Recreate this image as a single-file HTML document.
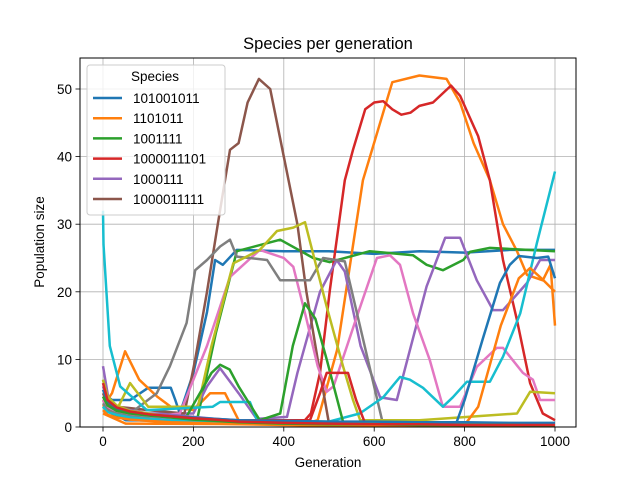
<!DOCTYPE html>
<html><head><meta charset="utf-8"><style>
body{margin:0;background:#fff;}
svg text{font-family:"Liberation Sans","DejaVu Sans",sans-serif;}
</style></head><body>
<svg id="chart" width="640" height="480" xmlns="http://www.w3.org/2000/svg">
<rect width="640" height="480" fill="#fff"/>
<text x="328" y="49" font-size="16.5" text-anchor="middle">Species per generation</text>
<g id="grid"></g>
<g id="series"></g>
<rect x="80" y="58" width="496" height="369" fill="none" stroke="#000" stroke-width="1"/>
<g id="ticks"></g>
<text x="328" y="467" font-size="13.5" text-anchor="middle">Generation</text>
<text transform="translate(44,242) rotate(-90)" font-size="13.5" text-anchor="middle">Population size</text>
<g id="legend"></g>
</svg>
<script>
const xTicks=[0,200,400,600,800,1000];
const yTicks=[0,10,20,30,40,50];
const legendLabels=["101001011","1101011","1001111","1000011101","1000111","1000011111"];
const colors=["#1f77b4","#ff7f0e","#2ca02c","#d62728","#9467bd","#8c564b","#e377c2","#7f7f7f","#bcbd22","#17becf"];

const blueA_g=[0,20,60,100,150,160,170,200,230,248,265,296,400,500,600,700,800,900,1000];
const blueA_v=[5,4,4,5.8,5.8,4,2,8,17,24.7,24,26.2,26,26,25.6,26,25.8,26.2,26.2];
const orangeA_g=[0,20,49,80,120,150,200,237,270,300,450,475,518,575,640,700,760,790,820,856,885,916,938,973,990,1000];
const orangeA_v=[3,5,11.2,7,4.5,3,2.5,5,5,1,0.5,1,11.4,36.5,51,52,51.5,48,42,36.5,30,26,22.5,21.7,24,15];
const greenA_g=[0,30,100,208,250,296,392,465,502,590,686,716,752,797,812,856,1000];
const greenA_v=[3,1.5,1,1,14,26,27.7,25,24.4,26,25.4,24,23.2,24.7,25.9,26.5,26];
const redA_g=[0,20,100,440,460,480,502,535,553,580,600,620,640,660,680,700,730,770,790,810,830,856,885,916,945,973,1000];
const redA_v=[4,2,1,0.5,2,8,20.3,36.5,41,47,48,48.2,47,46.2,46.5,47.5,48,50.5,49,46,43,36.5,24.7,15.8,6.5,2,1];
const purpleA_g=[0,15,50,200,230,259,300,340,407,430,480,517,535,570,613,650,716,757,790,827,863,885,938,967,1000];
const purpleA_v=[9,3,2,2,6,8.7,5,1.2,1.5,8,20,24.7,23,12,4.4,4,20.8,28,28,21.7,17.3,17.3,21.3,24.7,24.7];
const brownA_g=[0,30,100,180,204,230,254,281,300,320,345,370,385,400,430,450,475,500,1000];
const brownA_v=[4,3,2.5,2,10,20,30,41,42,48,51.5,50,45,40,30,20,10,0.5,0.3];
const pink_g=[0,20,100,170,230,281,347,400,421,450,475,495,510,560,606,635,657,686,723,752,790,827,871,885,929,951,967,1000];
const pink_v=[4,2,1.5,2,12,22.2,26.2,25,23.7,16,9,5.2,6,16,25,25.4,24,16.8,9.9,3,3,8.9,11.7,11.7,8,7,4,4];
const gray_g=[0,15,60,119,148,185,204,230,259,281,296,363,392,458,487,535,620,1000];
const gray_v=[7,3,2,5,9,15.4,23.2,24.7,26.7,27.7,25.2,24.7,21.7,21.7,25,24.5,0.3,0.2];
const olive_g=[0,30,60,100,210,240,288,347,385,421,447,495,531,553,569,700,916,945,1000];
const olive_v=[3,2.5,6.5,3,3,12,24.2,26.2,29,29.5,30.3,17.8,9,4,1,1,2,5.2,5];
const cyan_g=[0,1,15,38,97,243,259,325,341,500,568,620,657,679,708,752,774,805,856,885,923,960,1000];
const cyan_v=[32,27,12,6,2.5,3,3.7,3.7,1,0.8,2,4.4,7.4,7,5.8,3,4.4,6.7,6.7,10.4,16.8,27.2,37.8];
const blueB_g=[0,50,780,800,840,878,900,920,960,985,1000];
const blueB_v=[3,1,0.3,4,13,21.3,24,25.3,25,25.2,22];
const orangeB_g=[0,50,800,830,880,920,945,970,1000];
const orangeB_v=[2,0.5,0.3,3,15,22,23.5,22,20];
const greenB_g=[0,30,180,240,259,280,300,347,392,420,447,470,495,531,1000];
const greenB_v=[3,1.5,1,8,9.2,8.5,6,1,2,12,18.3,16,10,0.8,0.5];
const redB_g=[0,20,100,458,480,495,542,560,580,1000];
const redB_v=[4,2,1,1,5,8,8,4,0.5,0.4];

const minor_g=[0,10,30,60,100,150,200,250,300,400,500,600,700,800,900,1000];
const minor1=[6,4,3,2.5,2,1.8,1.5,1.2,1,0.8,0.7,0.7,0.6,0.6,0.5,0.5];
const minor2=[5,3.5,2.6,2,1.6,1.4,1.2,1,0.9,0.7,0.6,0.5,0.5,0.4,0.4,0.4];
const minor3=[4,3,2.2,1.8,1.5,1.2,1,0.9,0.8,0.6,0.5,0.4,0.3,0.3,0.3,0.3];
const minor4=[3.5,2.5,2,1.6,1.3,1,0.9,0.8,0.6,0.5,0.4,0.3,0.3,0.2,0.2,0.2];
const minor5=[7,4.5,3.2,2.4,2,1.5,1.3,1.1,0.9,0.7,0.6,0.5,0.5,0.4,0.4,0.3];
const minor6=[3,2.2,1.8,1.4,1.2,1,0.8,0.6,0.5,0.4,0.3,0.3,0.2,0.2,0.2,0.1];
const minor7=[5.5,3.8,2.8,2.2,1.8,1.6,1.4,1.2,1,0.9,0.8,0.8,0.7,0.7,0.6,0.6];
const minor8=[2.5,1.8,1.4,1.1,0.9,0.7,0.6,0.5,0.4,0.3,0.2,0.2,0.2,0.1,0.1,0.1];
const minor9=[4.5,3.2,2.4,2,1.7,1.4,1.1,0.9,0.7,0.5,0.4,0.4,0.3,0.3,0.3,0.2];
const minor10=[6.5,4,2.9,2.3,1.9,1.6,1.3,1.1,0.8,0.6,0.5,0.4,0.4,0.3,0.3,0.3];

const NS="http://www.w3.org/2000/svg";
const X0=80,X1=576,Y0=427,Y1=58;
function sx(g){return 103+(g/1000)*452;}
function sy(v){return 427-v*6.76;}

const grid=document.getElementById('grid');
const ticks=document.getElementById('ticks');
xTicks.forEach(t=>{
  const l=document.createElementNS(NS,'line');
  
  
  l.setAttribute('x1',sx(t));l.setAttribute('x2',sx(t));l.setAttribute('y1',Y1);l.setAttribute('y2',Y0);
  l.setAttribute('stroke','#b0b0b0');l.setAttribute('stroke-width','0.8');
  grid.appendChild(l);
  const tk=document.createElementNS(NS,'line');
  
  
  tk.setAttribute('x1',sx(t));tk.setAttribute('x2',sx(t));tk.setAttribute('y1',Y0);tk.setAttribute('y2',Y0+4.5);
  tk.setAttribute('stroke','#000');tk.setAttribute('stroke-width','0.8');
  ticks.appendChild(tk);
  const tx=document.createElementNS(NS,'text');
  
  
  tx.setAttribute('x',sx(t));tx.setAttribute('y',446);tx.setAttribute('font-size','13.5');tx.setAttribute('text-anchor','middle');
  tx.textContent=t;ticks.appendChild(tx);
});
yTicks.forEach(t=>{
  const l=document.createElementNS(NS,'line');
  
  
  l.setAttribute('x1',X0);l.setAttribute('x2',X1);l.setAttribute('y1',sy(t));l.setAttribute('y2',sy(t));
  l.setAttribute('stroke','#b0b0b0');l.setAttribute('stroke-width','0.8');
  grid.appendChild(l);
  const tk=document.createElementNS(NS,'line');
  
  
  tk.setAttribute('x1',X0-4.5);tk.setAttribute('x2',X0);tk.setAttribute('y1',sy(t));tk.setAttribute('y2',sy(t));
  tk.setAttribute('stroke','#000');tk.setAttribute('stroke-width','0.8');
  ticks.appendChild(tk);
  const tx=document.createElementNS(NS,'text');
  
  
  tx.setAttribute('x',X0-8);tx.setAttribute('y',sy(t)+5);tx.setAttribute('font-size','13.5');tx.setAttribute('text-anchor','end');
  tx.textContent=t;ticks.appendChild(tx);
});

const seriesG=document.getElementById('series');
function draw(gs,vs,color,name){
  const p=document.createElementNS(NS,'polyline');
  
  
  p.setAttribute('points',gs.map((g,i)=>sx(g).toFixed(1)+','+sy(vs[i]).toFixed(1)).join(' '));
  p.setAttribute('fill','none');p.setAttribute('stroke',color);p.setAttribute('stroke-width','2.5');
  p.setAttribute('stroke-linejoin','round');
  seriesG.appendChild(p);
}
const cp=document.createElementNS(NS,'clipPath');cp.setAttribute('id','clip');
const cr=document.createElementNS(NS,'rect');cr.setAttribute('x',X0);cr.setAttribute('y',Y1);cr.setAttribute('width',X1-X0);cr.setAttribute('height',Y0-Y1);
cp.appendChild(cr);document.getElementById('chart').appendChild(cp);
seriesG.setAttribute('clip-path','url(#clip)');

draw(blueA_g,blueA_v,colors[0],'line-101001011');
draw(orangeA_g,orangeA_v,colors[1],'line-1101011');
draw(greenA_g,greenA_v,colors[2],'line-1001111');
draw(redA_g,redA_v,colors[3],'line-1000011101');
draw(purpleA_g,purpleA_v,colors[4],'line-1000111');
draw(brownA_g,brownA_v,colors[5],'line-1000011111');
draw(pink_g,pink_v,colors[6],'line-pink');
draw(gray_g,gray_v,colors[7],'line-gray');
draw(olive_g,olive_v,colors[8],'line-olive');
draw(cyan_g,cyan_v,colors[9],'line-cyan');
draw(blueB_g,blueB_v,colors[0],'line-blue-2');
draw(orangeB_g,orangeB_v,colors[1],'line-orange-2');
draw(greenB_g,greenB_v,colors[2],'line-green-2');
draw(redB_g,redB_v,colors[3],'line-red-2');
[minor1,minor2,minor3,minor4,minor5,minor6,minor7,minor8,minor9,minor10].forEach((m,i)=>{
  draw(minor_g,m,colors[(i+4)%10],'line-minor-species');
});

const lg=document.getElementById('legend');
const box=document.createElementNS(NS,'rect');


box.setAttribute('x',87);box.setAttribute('y',65);box.setAttribute('width',138);box.setAttribute('height',150);box.setAttribute('rx',3);
box.setAttribute('fill','#fff');box.setAttribute('fill-opacity','0.8');box.setAttribute('stroke','#ccc');
lg.appendChild(box);
const tt=document.createElementNS(NS,'text');


tt.setAttribute('x',155);tt.setAttribute('y',81);tt.setAttribute('font-size','13.5');tt.setAttribute('text-anchor','middle');
tt.textContent='Species';lg.appendChild(tt);
legendLabels.forEach((lab,i)=>{
  const y=98+i*20.2;
  const l=document.createElementNS(NS,'line');
  
  
  l.setAttribute('x1',93);l.setAttribute('x2',122);l.setAttribute('y1',y);l.setAttribute('y2',y);
  l.setAttribute('stroke',colors[i]);l.setAttribute('stroke-width','2.5');
  lg.appendChild(l);
  const t=document.createElementNS(NS,'text');
  
  
  t.setAttribute('x',133);t.setAttribute('y',y+5);t.setAttribute('font-size','13.5');
  t.textContent=lab;lg.appendChild(t);
});
</script>
</body></html>
